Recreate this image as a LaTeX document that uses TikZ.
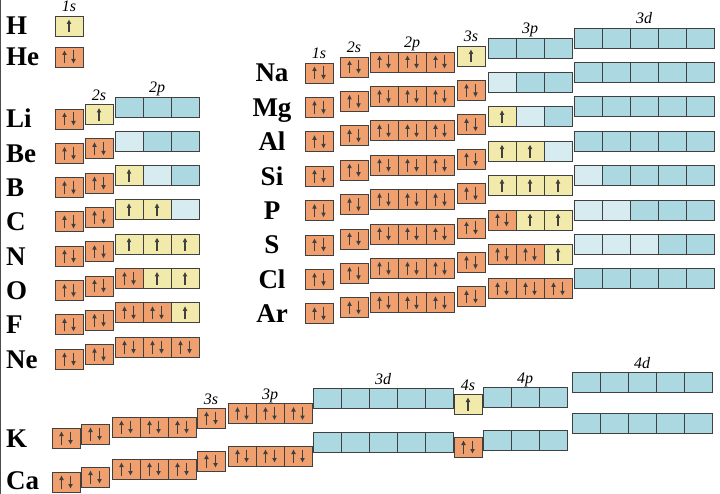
\documentclass[tikz,border=0pt]{standalone}
\usepackage{fontspec}
\setmainfont{Liberation Serif}
\usetikzlibrary{arrows.meta}
\definecolor{spinO}{RGB}{240,160,110}
\definecolor{spinY}{RGB}{242,234,170}
\definecolor{cellB}{RGB}{172,217,225}
\definecolor{cellL}{RGB}{214,236,241}
\tikzset{
  cell/.style={draw=black!75,line width=0.8pt,rectangle,minimum width=28pt,minimum height=20pt,
    anchor=north west,inner sep=0pt,outer sep=0pt},
  emp/.style={fill=cellB},
  lit/.style={fill=cellL},
  spin/.style={line width=1.1pt,-{Triangle[length=4.5pt,width=4.2pt]}},
  one/.style={fill=spinY,path picture={
    \draw[spin] ([yshift=-6.5pt]path picture bounding box.center) -- ++(0pt,13pt);}},
  two/.style={fill=spinO,path picture={
    \draw[spin] ([shift={(-4.5pt,-6.5pt)}]path picture bounding box.center) -- ++(0pt,13pt);
    \draw[spin] ([shift={(4.5pt,6.5pt)}]path picture bounding box.center) -- ++(0pt,-13pt);}},
  elem/.style={font=\fontsize{27}{30}\selectfont\bfseries,anchor=base west,inner sep=0pt},
  head/.style={font=\fontsize{16}{18}\selectfont\itshape,anchor=base,inner sep=0pt}
}
%% a row of cells: name, left x, top y, states
\newcommand{\shell}[4]{%
  \foreach \s [count=\i] in {#4}
    \node[cell,\s] (#1\i) at ({#2+(\i-1)*28},#3) {};}
%% period 2: symbol, top of 1s, 2s, 2p
\newcommand{\rowtwo}[4]{%
  \node[elem] (#1) at (6,#2+19) {#1};
  \shell{#11s}{55}{#2}{two}
  \shell{#12s}{85}{#2-4.5}{#3}
  \shell{#12p}{115}{#2-12}{#4}}
%% period 3: symbol, top of 1s, 3s, 3p, 3d
\newcommand{\rowthree}[5]{%
  \node[elem,anchor=base] (#1) at (272,#2+19) {#1};
  \shell{#11s}{305}{#2}{two}
  \shell{#12s}{340}{#2-6}{two}
  \shell{#12p}{370}{#2-11}{two,two,two}
  \shell{#13s}{457}{#2-17}{#3}
  \shell{#13p}{488}{#2-25}{#4}
  \shell{#13d}{574}{#2-35}{#5}}
\begin{document}
\begin{tikzpicture}[x=1pt,y=-1pt]
  \useasboundingbox (0,0) rectangle (720,494);
  \draw[black!70,line width=1.2pt] (0.6,0) -- (0.6,494);
  %% Period 1
  \node[elem] (H) at (6,35) {H};
  \shell{H1s}{55}{16}{one}
  \node[elem] (He) at (6,66) {He};
  \shell{He1s}{55}{47}{two}
  \node[head] at ([yshift=4pt]H1s1.north) {1s};
  %% Period 2
  \rowtwo{Li}{109}{one}{emp,emp,emp}
  \rowtwo{Be}{143.3}{two}{lit,emp,emp}
  \rowtwo{B}{177.6}{two}{one,lit,emp}
  \rowtwo{C}{211.9}{two}{one,one,lit}
  \rowtwo{N}{246.2}{two}{one,one,one}
  \rowtwo{O}{280.5}{two}{two,one,one}
  \rowtwo{F}{314.8}{two}{two,two,one}
  \rowtwo{Ne}{349.1}{two}{two,two,two}
  \node[head] at ([yshift=4pt]Li2s1.north) {2s};
  \node[head] at ([yshift=4pt]Li2p2.north) {2p};
  %% Period 3
  \rowthree{Na}{63}{one}{emp,emp,emp}{emp,emp,emp,emp,emp}
  \rowthree{Mg}{97.4}{two}{lit,emp,emp}{emp,emp,emp,emp,emp}
  \rowthree{Al}{131.8}{two}{one,lit,emp}{emp,emp,emp,emp,emp}
  \rowthree{Si}{166.2}{two}{one,one,lit}{emp,emp,emp,emp,emp}
  \rowthree{P}{200.6}{two}{one,one,one}{lit,emp,emp,emp,emp}
  \rowthree{S}{235}{two}{two,one,one}{lit,lit,emp,emp,emp}
  \rowthree{Cl}{269.4}{two}{two,two,one}{lit,lit,lit,emp,emp}
  \rowthree{Ar}{303.8}{two}{two,two,two}{emp,emp,emp,emp,emp}
  \node[head] at ([yshift=4pt]Na1s1.north) {1s};
  \node[head] at ([yshift=4pt]Na2s1.north) {2s};
  \node[head] at ([yshift=4pt]Na2p2.north) {2p};
  \node[head] at ([yshift=4pt]Na3s1.north) {3s};
  \node[head] at ([yshift=4pt]Na3p2.north) {3p};
  \node[head] at ([yshift=4pt]Na3d3.north) {3d};
  %% Period 4
  \node[elem] (K) at (6,447) {K};
  \shell{K1s}{52}{428}{two}
  \shell{K2s}{81}{424}{two}
  \shell{K2p}{112}{417}{two,two,two}
  \shell{K3s}{197}{408}{two}
  \shell{K3p}{228}{403.5}{two,two,two}
  \shell{K3d}{313}{388}{emp,emp,emp,emp,emp}
  \shell{K4s}{454}{394}{one}
  \shell{K4p}{483}{387.5}{emp,emp,emp}
  \shell{K4d}{572}{372}{emp,emp,emp,emp,emp}
  \node[elem] (Ca) at (6,489.5) {Ca};
  \shell{Ca1s}{52}{472}{two}
  \shell{Ca2s}{81}{467}{two}
  \shell{Ca2p}{112}{459}{two,two,two}
  \shell{Ca3s}{197}{451}{two}
  \shell{Ca3p}{228}{446}{two,two,two}
  \shell{Ca3d}{313}{432}{emp,emp,emp,emp,emp}
  \shell{Ca4s}{454}{437}{two}
  \shell{Ca4p}{483}{430}{emp,emp,emp}
  \shell{Ca4d}{572}{413}{emp,emp,emp,emp,emp}
  \node[head] at ([yshift=4pt]K3s1.north) {3s};
  \node[head] at ([yshift=4pt]K3p2.north) {3p};
  \node[head] at ([yshift=4pt]K3d3.north) {3d};
  \node[head] at ([yshift=4pt]K4s1.north) {4s};
  \node[head] at ([yshift=4pt]K4p2.north) {4p};
  \node[head] at ([yshift=4pt]K4d3.north) {4d};
\end{tikzpicture}
\end{document}
